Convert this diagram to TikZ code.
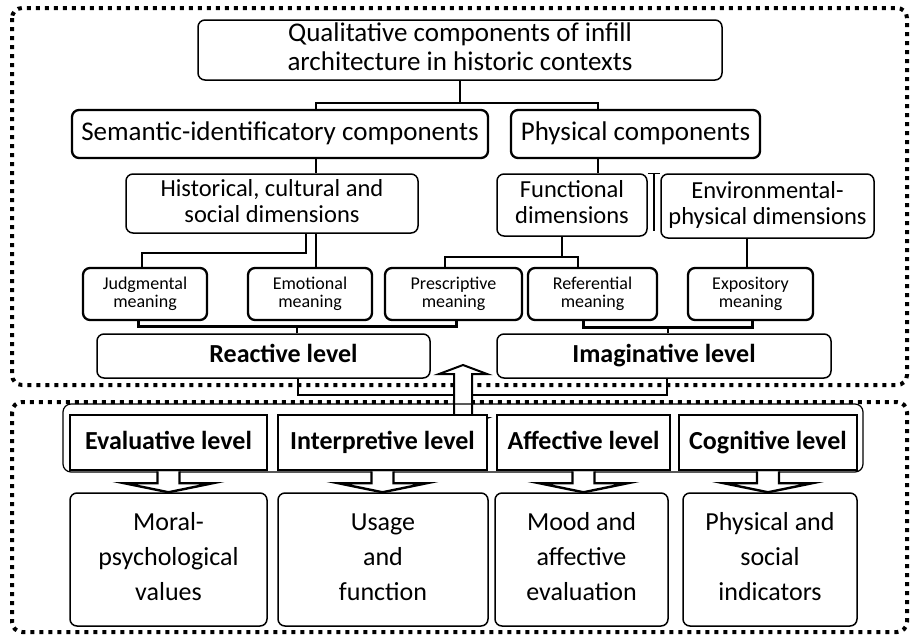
\documentclass[tikz,border=0pt]{standalone}
\usepackage{fontspec}
\setmainfont{Carlito}
\usetikzlibrary{calc}

\begin{document}
\begin{tikzpicture}[
        x=1pt, y=-1pt,
        box/.style={draw, line width=1.5pt, rounded corners=7pt, align=center, inner sep=0pt},
        hbox/.style={box, line width=2.3pt, font=\fontsize{27}{29}\selectfont, text height=19, text depth=6},
        dbox/.style={box, font=\fontsize{24.5}{26}\selectfont, text height=43.5, text depth=6},
        mbox/.style={box, line width=2.3pt, minimum width=124, minimum height=52, font=\fontsize{18}{18.5}\selectfont, text height=31.5, text depth=4.5},
        lbox/.style={box, minimum height=44, font=\bfseries\fontsize{26}{28}\selectfont, text height=19, text depth=6},
        levbox/.style={draw, line width=2.8pt, align=center, inner sep=0pt, minimum height=55, fill=white, font=\bfseries\fontsize{26}{28}\selectfont, text height=19, text depth=6},
        resbox/.style={box, minimum height=133, font=\fontsize{26}{35}\selectfont, text height=88.5, text depth=6.5},
        conn/.style={line width=1.5pt},
        bar/.style={line width=3pt},
        frame/.style={line width=4pt, dash pattern=on 4pt off 5pt, rounded corners=10pt},
        blockarrow/.style={draw, fill=white, line width=2.4pt, line join=miter}
    ]
        \useasboundingbox (0,0) rectangle (910,635);

        % Frames
        \draw[frame] (12,8) rectangle (907,385);
        \draw[frame] (12,402) rectangle (907,632);

        % Nodes
        \node (title) [box, minimum width=524, minimum height=60, font=\fontsize{27}{29}\selectfont, text height=48.5, text depth=7] at (460,50) {Qualitative components of infill\\architecture in historic contexts};
        \node (sem) [hbox, minimum width=416, minimum height=48] at (280,134) {Semantic-identificatory components};
        \node (phys) [hbox, minimum width=249, minimum height=48] at (635.5,134) {Physical components};
        \node (hist) [dbox, minimum width=292, minimum height=59] at (272,203.5) {Historical, cultural and\\social dimensions};
        \node (func) [dbox, minimum width=150, minimum height=62] at (572,205) {Functional\\dimensions};
        \node (env) [dbox, minimum width=213, minimum height=64] at (767.5,206) {Environmental-\\physical dimensions};
        \node (judg) [mbox] at (145,294) {Judgmental\\meaning};
        \node (emo) [mbox] at (310,294) {Emotional\\meaning};
        \node (pres) [mbox, minimum width=137] at (453.5,294) {Prescriptive\\meaning};
        \node (ref) [mbox, minimum width=129] at (592.5,294) {Referential\\meaning};
        \node (expo) [mbox, minimum width=125] at (750.5,294) {Expository\\meaning};
        \node (react) [lbox, minimum width=333] at (263.5,356) {\hspace*{40pt}Reactive level};
        \node (imag) [lbox, minimum width=334] at (664,356) {Imaginative level};
        \coordinate (arr) at (463,395);

        % Connectors
        \draw[conn] (title.south) -- ++(0,22) coordinate (tj);
        \draw[conn] ([xshift=36]sem.north) |- (tj) -| ([xshift=-37.5]phys.north);
        \draw[conn] ([xshift=36]sem.south) -- ([xshift=44]hist.north);
        \draw[conn] ([xshift=-37.5]phys.south) -- ([xshift=26]func.north);
        \draw[conn] (func.north east) -- (env.north west);
        \draw[conn] ($(func.north east)!0.5!(env.north west)$) -- ++(0,58);
        \draw[conn] ([xshift=34]hist.south) -- ++(0,19) -| ([xshift=-3]judg.north);
        \draw[conn] ([xshift=44]hist.south) -- ([xshift=6]emo.north);
        \draw[conn] ([xshift=-10]func.south) -- ++(0,20) coordinate (fj);
        \draw[conn] ([xshift=-8.5]pres.north) |- (fj) -| ([xshift=-14.5]ref.north);
        \draw[conn] ([xshift=-20.5]env.south) -- ([xshift=-3.5]expo.north);
        \draw[conn] ([xshift=33.5]react.north) -- ++(0,-7) coordinate (rj);
        \draw[bar] ([xshift=-7]judg.south) |- (rj) -| ([xshift=2.5]pres.south);
        \draw[conn] ([xshift=4]imag.north) -- ++(0,-6) coordinate (ij);
        \draw[bar] ([xshift=-9.5]ref.south) |- (ij) -| ([xshift=1.5]expo.south);
        \draw[conn] ([xshift=34.5]react.south) |- (arr);
        \draw[conn] ([xshift=3]imag.south) |- (arr);

        % Double arrow between the two parts
        \draw[blockarrow, line width=2pt] (463,365) -- (487,374) -- (472,374) -- (472,418) -- (487,418) -- (463,427)
            -- (439,418) -- (454,418) -- (454,374) -- (439,374) -- cycle;

        % Levels and results
        \draw[conn, line width=1.2pt, rounded corners=8pt] (63,404) rectangle (863,472);
        \node (eval) [levbox, minimum width=197] at (168.5,442.5) {Evaluative level};
        \node (interp) [levbox, minimum width=209] at (382.5,442.5) {Interpretive level};
        \node (affect) [levbox, minimum width=173] at (583.5,442.5) {Affective level};
        \node (cogn) [levbox, minimum width=178] at (768,442.5) {Cognitive level};
        \node (moral) [resbox, minimum width=197] at (168.5,559.5) {Moral-\\psychological\\values};
        \node (usage) [resbox, minimum width=210] at (383,559.5) {Usage\\and\\function};
        \node (mood) [resbox, minimum width=173] at (581.5,559.5) {Mood and\\affective\\evaluation};
        \node (indic) [resbox, minimum width=174] at (770,559.5) {Physical and\\social\\indicators};

        \foreach \lv/\res in {eval/moral, interp/usage, affect/mood, cogn/indic} {
            \coordinate (tip) at (\lv.south |- \res.north);
            \draw[blockarrow] ([xshift=-11]\lv.south) -- ($(tip)+(-11,-9)$) -- ($(tip)+(-44,-9)$) -- (tip)
                -- ($(tip)+(44,-9)$) -- ($(tip)+(11,-9)$) -- ([xshift=11]\lv.south);
        }
    \end{tikzpicture}
\end{document}
